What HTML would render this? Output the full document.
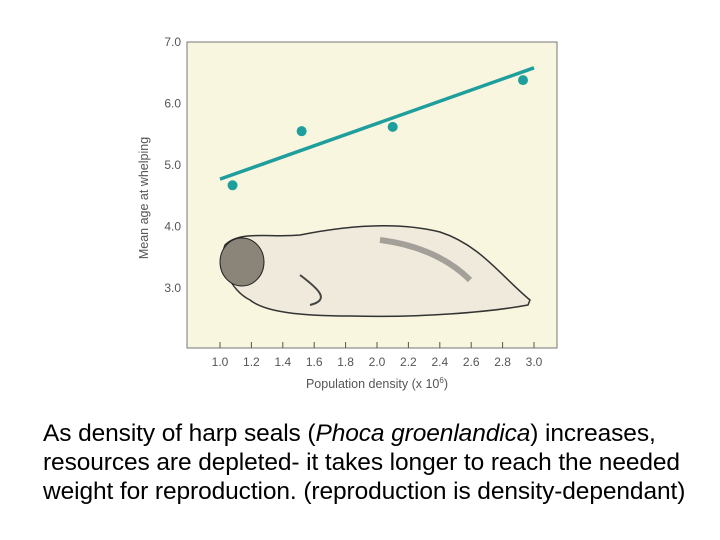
<!DOCTYPE html>
<html><head><meta charset="utf-8"><style>
body{margin:0;width:720px;height:540px;background:#fff;overflow:hidden;font-family:"Liberation Sans",sans-serif;}
#cap{position:absolute;left:43px;top:419px;font-size:24.5px;line-height:29px;color:#000;white-space:nowrap;letter-spacing:-0.1px;}
</style></head><body>
<svg id="chart" width="720" height="400" style="position:absolute;left:0;top:0">
<rect x="187" y="42" width="370" height="306" fill="#f8f6de" stroke="#777" stroke-width="1"/>
<g id="ticks"></g>
<g id="seal">
<path d="M225,245 C240,230 270,238 300,235 C350,225 400,222 440,232 C480,245 500,275 530,300 L528,305 C490,312 420,318 350,316 C300,316 265,312 250,300 C230,290 218,262 225,245 Z" fill="#efeadb" stroke="#333" stroke-width="1.5"/>
<ellipse cx="242" cy="262" rx="22" ry="24" fill="#8a8578" stroke="#222"/>
<path d="M380,240 C420,245 450,260 470,280" stroke="#555" stroke-width="6" fill="none" opacity="0.5"/>
<path d="M300,275 C320,290 330,300 310,305" stroke="#444" stroke-width="2" fill="none"/>
</g>
<text transform="translate(148,198) rotate(-90)" text-anchor="middle" font-size="12.5" fill="#555">Mean age at whelping</text>
<text x="377" y="388" text-anchor="middle" font-size="12.5" fill="#555">Population density (x 10<tspan font-size="8" dy="-5">6</tspan><tspan dy="5">)</tspan></text>
<g id="marks"></g>
</svg>
<div id="cap">As density of harp seals (<i>Phoca groenlandica</i>) increases,<br>resources are depleted- it takes longer to reach the needed<br>weight for reproduction. (reproduction is density-dependant)</div>
<script>
const xTicks=[1.0,1.2,1.4,1.6,1.8,2.0,2.2,2.4,2.6,2.8,3.0];
const yTicks=[7.0,6.0,5.0,4.0,3.0];
const densities=[1.08,1.52,2.10,2.93];
const ages=[4.67,5.55,5.62,6.38];
const trendX=[1.0,3.0];
const trendY=[4.77,6.58];
const ns="http://www.w3.org/2000/svg";
const X=v=>220+(v-1)*157;
const Y=v=>42+(7-v)*61.5;
function mk(t,a,p){const e=document.createElementNS(ns,t);for(const k in a)e.setAttribute(k,a[k]);p.appendChild(e);return e;}
const tg=document.getElementById('ticks');
xTicks.forEach(v=>{
 const l=mk('line',{x1:X(v),x2:X(v),y1:348,y2:342,stroke:'#555'},tg);
 
 
 const t=mk('text',{x:X(v),y:366,'text-anchor':'middle','font-size':12,fill:'#555'},tg);
 t.textContent=v.toFixed(1);
 
 
});
yTicks.forEach(v=>{
 const t=mk('text',{x:181,y:Y(v)+4,'text-anchor':'end','font-size':12,fill:'#555'},tg);
 t.textContent=v.toFixed(1);
 
 
});
const mg=document.getElementById('marks');
const ln=mk('line',{x1:X(trendX[0]),y1:Y(trendY[0]),x2:X(trendX[1]),y2:Y(trendY[1]),stroke:'#1f9e9e','stroke-width':3.5},mg);


densities.forEach((d,i)=>{
 const c=mk('circle',{cx:X(d),cy:Y(ages[i]),r:5,fill:'#1f9e9e'},mg);
 
 
});
</script>
</body></html>
